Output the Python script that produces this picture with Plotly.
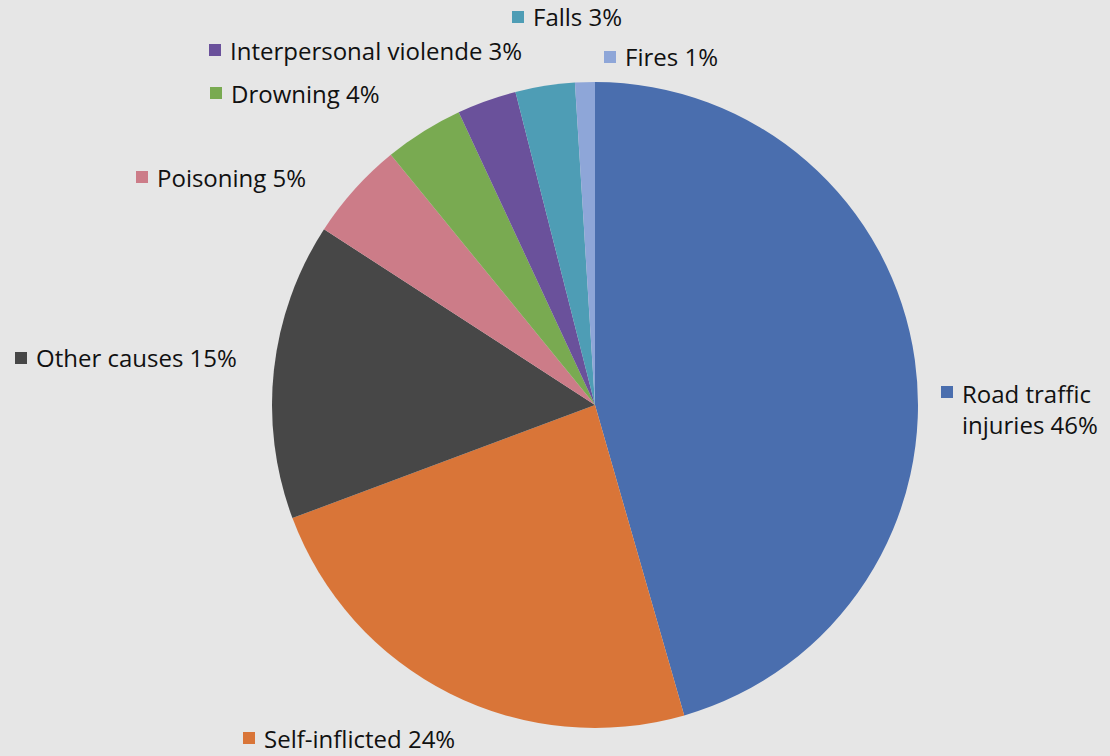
import plotly.graph_objects as go

# Causes of injury deaths, share in percent (clockwise from 12 o'clock)
causes = ["Road traffic injuries", "Self-inflicted", "Other causes", "Poisoning",
          "Drowning", "Interpersonal violende", "Falls", "Fires"]
shares = [46, 24, 15, 5, 4, 3, 3, 1]
colors = ["#4a6eae", "#d97538", "#474747", "#cc7c88",
          "#79aa51", "#6a519b", "#4e9db5", "#8ea6d8"]

# Label text lines
label_text = ["Road traffic<br>injuries 46%", "Self-inflicted 24%", "Other causes 15%",
              "Poisoning 5%", "Drowning 4%", "Interpersonal violende 3%",
              "Falls 3%", "Fires 1%"]

# Label placement in pixels: (marker left x, text center y)
W, H = 1110, 756
label_pos = [(941, 392), (243, 738), (15, 358), (136, 177),
             (210, 93), (209, 50), (512, 17), (604, 57)]

fig = go.Figure(go.Pie(
    labels=causes,
    values=shares,
    sort=False,
    direction="clockwise",
    rotation=0,
    marker=dict(colors=colors, line=dict(width=0)),
    textinfo="none",
    hoverinfo="label+percent",
    domain=dict(x=[(595 - 323) / W, (595 + 323) / W],
                y=[(H - 405 - 323) / H, (H - 405 + 323) / H]),
))

shapes = []
annotations = []
sq = 12
for (px, py), txt, col in zip(label_pos, label_text, colors):
    shapes.append(dict(type="rect", xref="paper", yref="paper",
                       x0=px / W, x1=(px + sq) / W,
                       y0=1 - (py - 6 + sq) / H, y1=1 - (py - 6) / H,
                       fillcolor=col, line=dict(width=0)))
    ty = py if "<br>" not in txt else py + 17
    annotations.append(dict(xref="paper", yref="paper", x=(px + 19) / W, y=1 - ty / H,
                            xanchor="left", yanchor="middle", text=txt, showarrow=False,
                            align="left", font=dict(size=24, color="#111111")))

fig.update_layout(
    width=W, height=H,
    margin=dict(l=0, r=0, t=0, b=0),
    paper_bgcolor="#e6e6e6",
    plot_bgcolor="#e6e6e6",
    showlegend=False,
    font=dict(family="Open Sans, Noto Sans, sans-serif"),
    shapes=shapes,
    annotations=annotations,
)

fig.write_html("out.html")
